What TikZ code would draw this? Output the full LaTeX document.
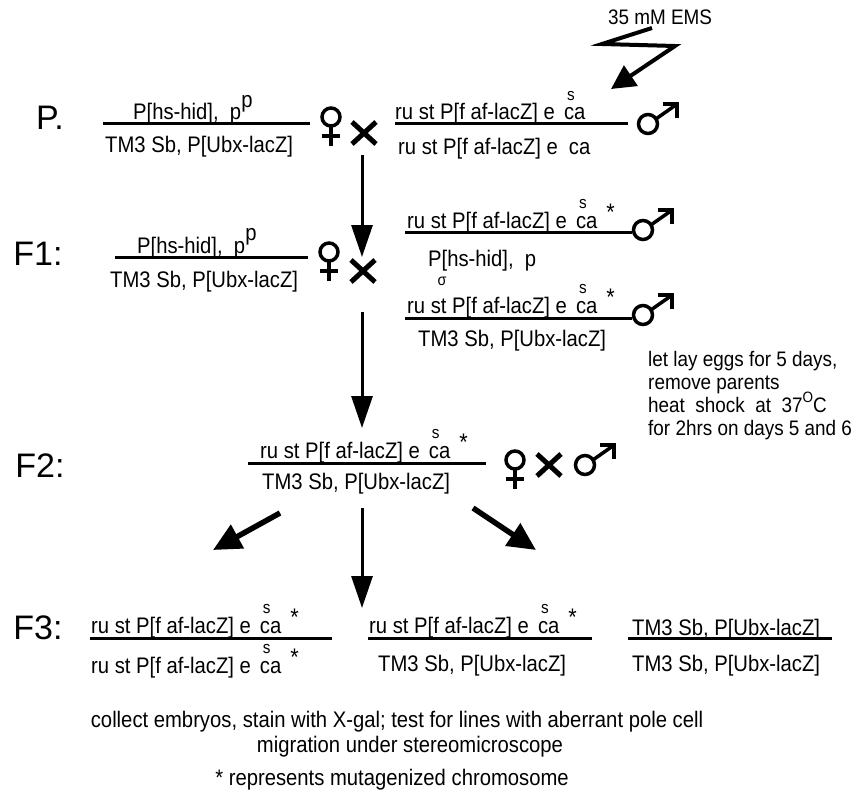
\documentclass[tikz,border=0pt]{standalone}
\usepackage{fontspec}
\setmainfont{Liberation Sans}[FakeStretch=0.9]
\newfontfamily\labfont{Liberation Sans}
\usetikzlibrary{arrows.meta}
\newcommand{\supS}{\makebox[0pt][l]{\hspace{3pt}\raisebox{0.85em}{\fontsize{17}{17}\selectfont s}}}
\newcommand{\rusta}{ru st P[f af-lacZ] e\hspace{9pt}\supS ca}
\newcommand{\mstar}{\hspace{9pt}\raisebox{0.35em}{\fontsize{24}{24}\selectfont *}}
\begin{document}
\begin{tikzpicture}[x=1pt,y=-1pt,
  gene/.style={font=\fontsize{22.5}{24}\selectfont, inner sep=0pt, anchor=base west},
  gen/.style={font=\labfont\fontsize{34}{36}\selectfont, inner sep=0pt},
  note/.style={font=\fontsize{21}{23}\selectfont, inner sep=0pt, anchor=base west},
  foot/.style={font=\fontsize{22.5}{24}\selectfont, inner sep=0pt, anchor=base},
  chrom/.style={line width=3pt},
  sym/.style={line width=3.5pt, miter limit=10},
  varrow/.style={line width=3pt, -{Triangle[length=32pt,width=21pt]}},
  darrow/.style={line width=5.5pt, -{Triangle[length=28pt,width=26pt]}},
  female/.pic={\draw[sym] (0,0) circle (9pt); \draw[sym] (0,9)--(0,29); \draw[sym] (-9,19)--(9,19);},
  male/.pic={\draw[sym] (0,0) circle (9.5pt); \draw[sym] (8.1,-5.2)--(28.5,-19.5); \draw[sym] (15,-20)--(29,-20)--(29,-6);},
  crosssym/.pic={\draw[line width=5pt] (-12,-11)--(12,11) (-12,11)--(12,-11);}
]
\useasboundingbox (0,0) rectangle (861,797);
\fill[white] (0,0) rectangle (861,797);

% EMS lightning
\node[font=\fontsize{21}{23}\selectfont, inner sep=0pt] (ems) at (660,17) {35 mM EMS};
\coordinate (z1) at (652,28);
\coordinate (z2) at (602,44);
\coordinate (z3) at (675,46);
\coordinate (z4) at (611,89);
\draw[line width=4pt, miter limit=10, -{Triangle[length=24pt,width=24pt]}] (z1) -- (z2) -- (z3) -- (z4);

% P generation
\node[gen] (P) at (50,118) {P.};
\draw[chrom] (103,123) -- (310,123);
\node[gene] (Pf1) at (133,120) {P[hs-hid],\ \ p\raisebox{0.55em}{p}};
\node[gene] (Pf2) at (105,152) {TM3 Sb, P[Ubx-lacZ]};
\pic at (331,117) {female};
\pic at (364,133) {crosssym};
\draw[chrom] (395,123) -- (628,123);
\node[gene] (Pm1) at (395,120) {\rusta};
\node[gene] (Pm2) at (398,154) {ru st P[f af-lacZ] e\hspace{11pt}ca};
\pic at (648,124) {male};

% arrow P -> F1
\coordinate (a1s) at (362,155);
\coordinate (a1e) at (362,257);
\draw[varrow] (a1s) -- (a1e);

% F1 generation
\node[gen] (F1) at (38,254) {F1:};
\draw[chrom] (115,257) -- (308,257);
\node[gene] (F1f1) at (137,253) {P[hs-hid],\ \ p\raisebox{0.55em}{p}};
\node[gene] (F1f2) at (110,287) {TM3 Sb, P[Ubx-lacZ]};
\pic at (329,252) {female};
\pic at (363,271) {crosssym};

\draw[chrom] (405,232) -- (632,232);
\node[gene] (F1m1) at (407,228) {\rusta\mstar};
\pic at (643,230) {male};
\node[gene] (F1m2) at (428,266) {P[hs-hid],\ \ p};
\node[font=\fontsize{16}{16}\selectfont, inner sep=0pt] (sig) at (442,281) {σ};

\draw[chrom] (405,318) -- (632,318);
\node[gene] (F1m3) at (407,313) {\rusta\mstar};
\pic at (643,315) {male};
\node[gene] (F1m4) at (418,346) {TM3 Sb, P[Ubx-lacZ]};

\node[note] (n1) at (648,366) {let lay eggs for 5 days,};
\node[note] (n2) at (648,389) {remove parents};
\node[note] (n3) at (648,412) {heat\ \ shock\ \ at\ \ 37\raisebox{0.45em}{\fontsize{15}{15}\selectfont O}C};
\node[note] (n4) at (648,435) {for 2hrs on days 5 and 6};

% arrow F1 -> F2
\coordinate (a2s) at (362,312);
\coordinate (a2e) at (362,428);
\draw[varrow] (a2s) -- (a2e);

% F2 generation
\node[gen] (F2) at (40,466) {F2:};
\draw[chrom] (248,463) -- (486,463);
\node[gene] (F2a) at (260,458) {\rusta\mstar};
\node[gene] (F2b) at (262,489) {TM3 Sb, P[Ubx-lacZ]};
\pic at (515,460) {female};
\pic at (549,465) {crosssym};
\pic at (585,465) {male};

% arrows F2 -> F3
\coordinate (b1s) at (280,513);
\coordinate (b1e) at (213,550);
\coordinate (b2s) at (362,508);
\coordinate (b2e) at (362,608);
\coordinate (b3s) at (473,508);
\coordinate (b3e) at (536,550);
\draw[darrow] (b1s) -- (b1e);
\draw[varrow] (b2s) -- (b2e);
\draw[darrow] (b3s) -- (b3e);

% F3 generation
\node[gen] (F3) at (38,628) {F3:};
\draw[chrom] (90,638) -- (332,638);
\node[gene] (F3a1) at (91,633) {\rusta\mstar};
\node[gene] (F3a2) at (91,673) {\rusta\mstar};
\draw[chrom] (368,638) -- (592,638);
\node[gene] (F3b1) at (369,633) {\rusta\mstar};
\node[gene] (F3b2) at (378,671) {TM3 Sb, P[Ubx-lacZ]};
\draw[chrom] (628,638) -- (832,638);
\node[gene] (F3c1) at (632,635) {TM3 Sb, P[Ubx-lacZ]};
\node[gene] (F3c2) at (632,671) {TM3 Sb, P[Ubx-lacZ]};

% footnotes
\node[foot] (c1) at (397,727) {collect embryos, stain with X-gal; test for lines with aberrant pole cell};
\node[foot] (c2) at (410,752) {migration under stereomicroscope};
\node[foot] (c3) at (392,785) {* represents mutagenized chromosome};
\end{tikzpicture}
\end{document}
